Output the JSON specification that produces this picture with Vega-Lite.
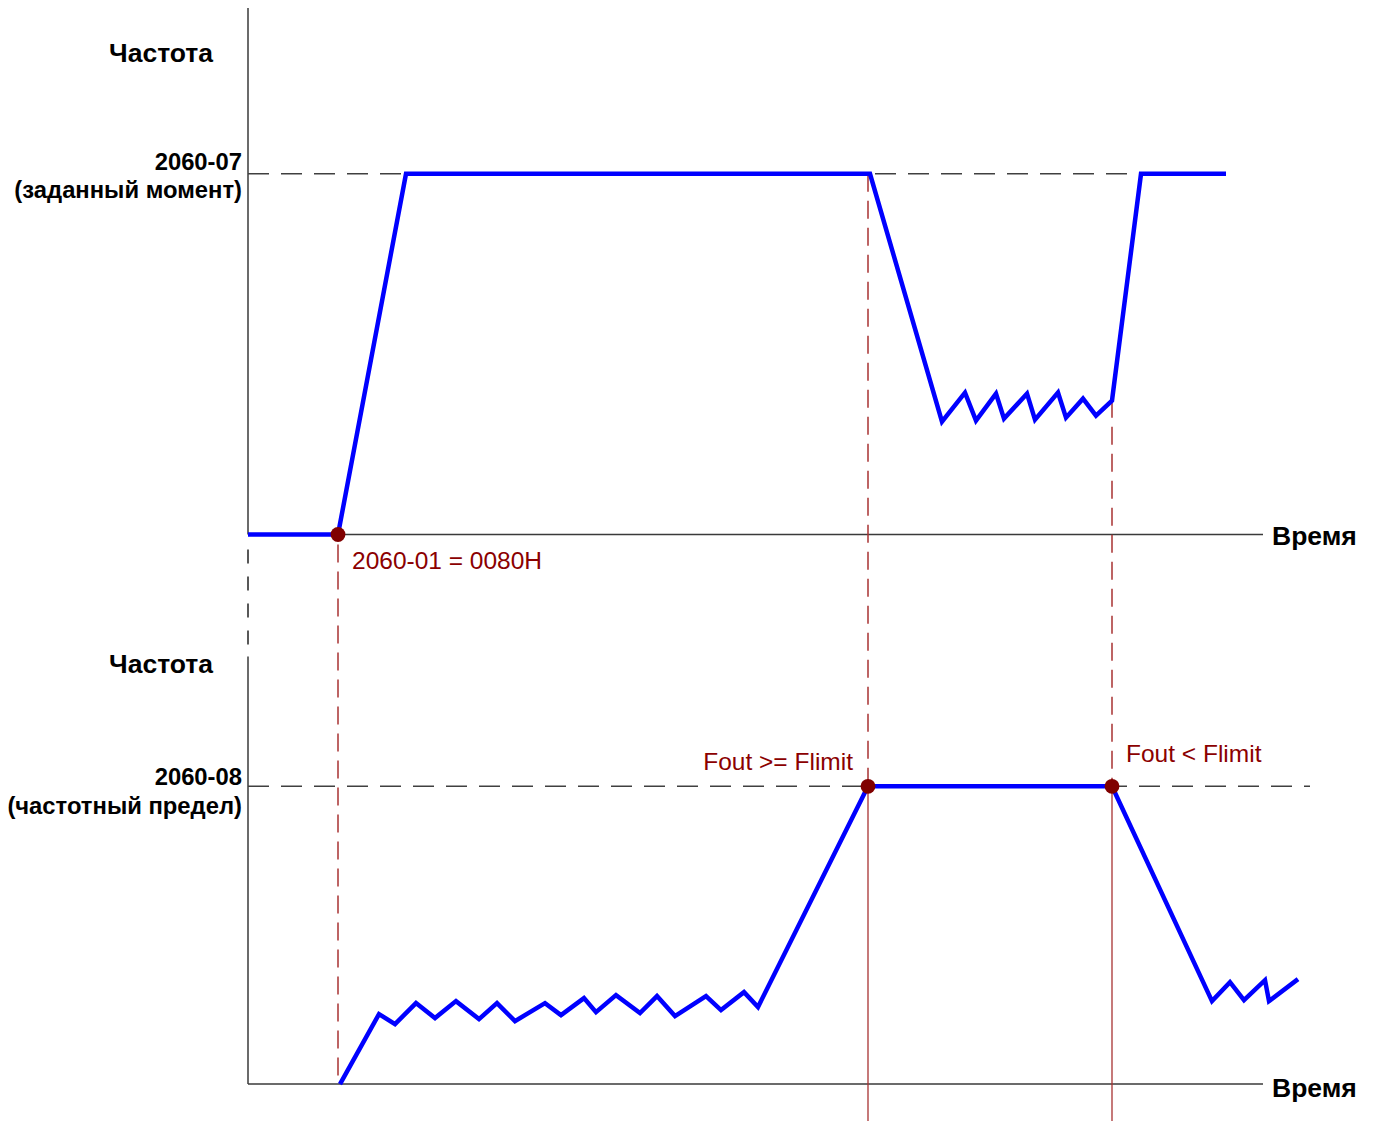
{
  "$schema": "https://vega.github.io/schema/vega-lite/v6.json",
  "width": 1373,
  "height": 1122,
  "autosize": {"type": "fit", "contains": "padding"},
  "padding": 0,
  "background": "white",
  "config": {"view": {"stroke": null}},
  "datasets": {
    "axes": [
      {"t": 248, "v": 8, "t2": 248, "v2": 535},
      {"t": 248, "v": 535, "t2": 1263, "v2": 535},
      {"t": 248, "v": 657, "t2": 248, "v2": 1085},
      {"t": 248, "v": 1085, "t2": 1263, "v2": 1085}
    ],
    "refs": [
      {"t": 248, "v": 174, "t2": 1141, "v2": 174},
      {"t": 248, "v": 787, "t2": 1310, "v2": 787}
    ],
    "gap": [
      {"t": 248, "v": 550, "t2": 248, "v2": 657}
    ],
    "markers": [
      {"t": 338, "v": 545, "t2": 338, "v2": 1085},
      {"t": 868, "v": 174, "t2": 868, "v2": 787},
      {"t": 1112, "v": 400, "t2": 1112, "v2": 787}
    ],
    "markers_solid": [
      {"t": 868, "v": 787, "t2": 868, "v2": 1122},
      {"t": 1112, "v": 787, "t2": 1112, "v2": 1122}
    ],
    "signal": [
      {"s": "torque", "i": 0, "t": 248, "v": 535},
      {"s": "torque", "i": 1, "t": 338, "v": 535},
      {"s": "torque", "i": 2, "t": 406, "v": 174},
      {"s": "torque", "i": 3, "t": 870, "v": 174},
      {"s": "torque", "i": 4, "t": 942, "v": 422},
      {"s": "torque", "i": 5, "t": 965, "v": 393},
      {"s": "torque", "i": 6, "t": 976, "v": 421},
      {"s": "torque", "i": 7, "t": 996, "v": 394},
      {"s": "torque", "i": 8, "t": 1004, "v": 419},
      {"s": "torque", "i": 9, "t": 1027, "v": 394},
      {"s": "torque", "i": 10, "t": 1035, "v": 420},
      {"s": "torque", "i": 11, "t": 1058, "v": 393},
      {"s": "torque", "i": 12, "t": 1066, "v": 418},
      {"s": "torque", "i": 13, "t": 1083, "v": 399},
      {"s": "torque", "i": 14, "t": 1096, "v": 416},
      {"s": "torque", "i": 15, "t": 1112, "v": 401},
      {"s": "torque", "i": 16, "t": 1141, "v": 174},
      {"s": "torque", "i": 17, "t": 1226, "v": 174},
      {"s": "freq", "i": 0, "t": 340, "v": 1085},
      {"s": "freq", "i": 1, "t": 379, "v": 1015},
      {"s": "freq", "i": 2, "t": 395, "v": 1025},
      {"s": "freq", "i": 3, "t": 416, "v": 1004},
      {"s": "freq", "i": 4, "t": 435, "v": 1019},
      {"s": "freq", "i": 5, "t": 456, "v": 1002},
      {"s": "freq", "i": 6, "t": 479, "v": 1020},
      {"s": "freq", "i": 7, "t": 497, "v": 1004},
      {"s": "freq", "i": 8, "t": 515, "v": 1022},
      {"s": "freq", "i": 9, "t": 545, "v": 1004},
      {"s": "freq", "i": 10, "t": 561, "v": 1016},
      {"s": "freq", "i": 11, "t": 584, "v": 999},
      {"s": "freq", "i": 12, "t": 596, "v": 1013},
      {"s": "freq", "i": 13, "t": 616, "v": 996},
      {"s": "freq", "i": 14, "t": 640, "v": 1014},
      {"s": "freq", "i": 15, "t": 657, "v": 997},
      {"s": "freq", "i": 16, "t": 675, "v": 1017},
      {"s": "freq", "i": 17, "t": 706, "v": 997},
      {"s": "freq", "i": 18, "t": 721, "v": 1011},
      {"s": "freq", "i": 19, "t": 744, "v": 993},
      {"s": "freq", "i": 20, "t": 758, "v": 1008},
      {"s": "freq", "i": 21, "t": 868, "v": 787},
      {"s": "freq", "i": 22, "t": 1112, "v": 787},
      {"s": "freq", "i": 23, "t": 1212, "v": 1002},
      {"s": "freq", "i": 24, "t": 1230, "v": 983},
      {"s": "freq", "i": 25, "t": 1244, "v": 1001},
      {"s": "freq", "i": 26, "t": 1265, "v": 981},
      {"s": "freq", "i": 27, "t": 1269, "v": 1002},
      {"s": "freq", "i": 28, "t": 1298, "v": 980}
    ],
    "events": [
      {"t": 338, "v": 535},
      {"t": 868, "v": 787},
      {"t": 1112, "v": 787}
    ],
    "ylabels_big": [
      {"t": 213, "v": 54, "label": "Частота"},
      {"t": 213, "v": 666, "label": "Частота"}
    ],
    "ylabels": [
      {"t": 242, "v": 163, "label": "2060-07"},
      {"t": 242, "v": 191, "label": "(заданный момент)"},
      {"t": 242, "v": 779, "label": "2060-08"},
      {"t": 242, "v": 808, "label": "(частотный предел)"}
    ],
    "xlabels": [
      {"t": 1272, "v": 537, "label": "Время"},
      {"t": 1272, "v": 1090, "label": "Время"}
    ],
    "notes_left": [
      {"t": 352, "v": 563, "label": "2060-01 = 0080H"},
      {"t": 1126, "v": 756, "label": "Fout < Flimit"}
    ],
    "notes_right": [
      {"t": 853, "v": 764, "label": "Fout >= Flimit"}
    ]
  },
  "encoding": {
    "x": {"field": "t", "type": "quantitative", "scale": {"domain": [0, 1373], "nice": false, "zero": false}, "axis": null},
    "y": {"field": "v", "type": "quantitative", "scale": {"domain": [0, 1122], "nice": false, "zero": false, "reverse": true}, "axis": null}
  },
  "layer": [
    {
      "data": {"name": "axes"},
      "mark": {"type": "rule", "color": "#3a3a3a", "strokeWidth": 1.5},
      "encoding": {"x2": {"field": "t2"}, "y2": {"field": "v2"}}
    },
    {
      "data": {"name": "refs"},
      "mark": {"type": "rule", "color": "#404040", "strokeWidth": 1.5, "strokeDash": [21, 12]},
      "encoding": {"x2": {"field": "t2"}, "y2": {"field": "v2"}}
    },
    {
      "data": {"name": "gap"},
      "mark": {"type": "rule", "color": "#222222", "strokeWidth": 1.5, "strokeDash": [14, 13]},
      "encoding": {"x2": {"field": "t2"}, "y2": {"field": "v2"}}
    },
    {
      "data": {"name": "markers"},
      "mark": {"type": "rule", "color": "#a83232", "strokeWidth": 1.5, "strokeDash": [18, 9]},
      "encoding": {"x2": {"field": "t2"}, "y2": {"field": "v2"}}
    },
    {
      "data": {"name": "markers_solid"},
      "mark": {"type": "rule", "color": "#a83232", "strokeWidth": 1.3},
      "encoding": {"x2": {"field": "t2"}, "y2": {"field": "v2"}}
    },
    {
      "data": {"name": "signal"},
      "mark": {"type": "line", "color": "#0000ff", "strokeWidth": 4.5, "strokeJoin": "miter", "strokeCap": "butt"},
      "encoding": {"detail": {"field": "s"}, "order": {"field": "i", "type": "quantitative"}}
    },
    {
      "data": {"name": "events"},
      "mark": {"type": "point", "filled": true, "color": "#800000", "opacity": 1, "size": 220}
    },
    {
      "data": {"name": "ylabels_big"},
      "mark": {"type": "text", "align": "right", "baseline": "middle", "font": "Liberation Sans", "fontWeight": "bold", "fontSize": 26.5, "color": "#000000"},
      "encoding": {"text": {"field": "label"}}
    },
    {
      "data": {"name": "ylabels"},
      "mark": {"type": "text", "align": "right", "baseline": "middle", "font": "Liberation Sans", "fontWeight": "bold", "fontSize": 23.8, "color": "#000000"},
      "encoding": {"text": {"field": "label"}}
    },
    {
      "data": {"name": "xlabels"},
      "mark": {"type": "text", "align": "left", "baseline": "middle", "font": "Liberation Sans", "fontWeight": "bold", "fontSize": 26.5, "color": "#000000"},
      "encoding": {"text": {"field": "label"}}
    },
    {
      "data": {"name": "notes_left"},
      "mark": {"type": "text", "align": "left", "baseline": "middle", "font": "Liberation Sans", "fontSize": 24.5, "color": "#8b0000"},
      "encoding": {"text": {"field": "label"}}
    },
    {
      "data": {"name": "notes_right"},
      "mark": {"type": "text", "align": "right", "baseline": "middle", "font": "Liberation Sans", "fontSize": 24.5, "color": "#8b0000"},
      "encoding": {"text": {"field": "label"}}
    }
  ]
}
